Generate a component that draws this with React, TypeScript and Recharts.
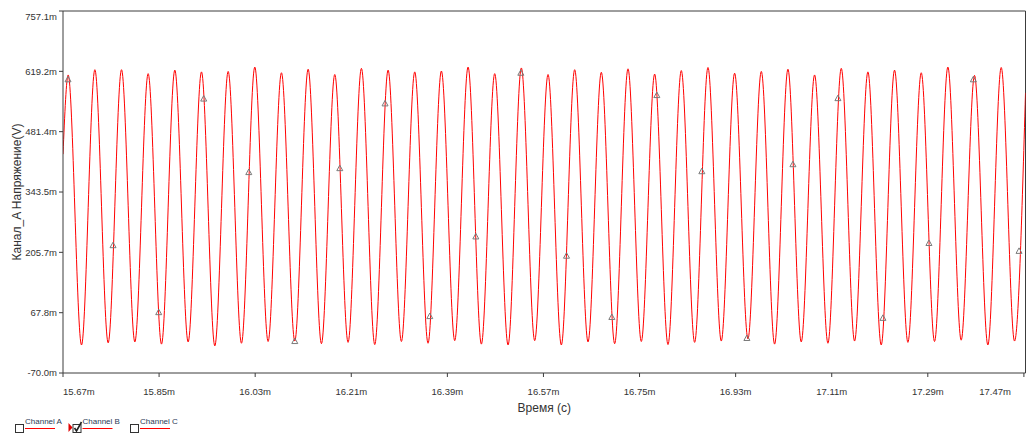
import React from 'react';
import { ComposedChart, Line, Scatter, XAxis, YAxis, ReferenceLine } from 'recharts';

// peaks and troughs of the Channel A trace (time in ms, voltage in mV)
const peakTimes = [
  15.6797, 15.7297, 15.7796, 15.8295, 15.8795, 15.9294, 15.9794, 16.0293, 16.0792, 16.1292,
  16.1791, 16.229, 16.279, 16.3289, 16.3788, 16.4288, 16.4787, 16.5286, 16.5786, 16.6285,
  16.6784, 16.7284, 16.7783, 16.8282, 16.8782, 16.9281, 16.9781, 17.028, 17.0779, 17.1279,
  17.1778, 17.2277, 17.2777, 17.3276, 17.3775, 17.4275,
];
const peakValues = [
  611, 623, 623, 614, 622, 618, 619, 629, 616, 624,
  612, 626, 622, 618, 620, 629, 614, 627, 612, 623,
  617, 625, 613, 621, 628, 615, 619, 624, 611, 626,
  618, 622, 616, 629, 610, 628,
];
const troughTimes = [
  15.7047, 15.7546, 15.8046, 15.8545, 15.9044, 15.9544, 16.0043, 16.0542, 16.1042, 16.1541,
  16.204, 16.254, 16.3039, 16.3538, 16.4038, 16.4537, 16.5037, 16.5536, 16.6035, 16.6535,
  16.7034, 16.7533, 16.8033, 16.8532, 16.9031, 16.9531, 17.003, 17.0529, 17.1029, 17.1528,
  17.2027, 17.2527, 17.3026, 17.3525, 17.4025, 17.4524,
];
const troughValues = [
  -6, -1, 1, -4, 1, -8, -2, 2, 3, -3,
  0, -5, 2, -2, 4, -4, -6, 4, -6, 1,
  -3, 2, -5, 0, 3, 8, -4, 1, -2, 3,
  -6, 0, 2, 5, -6, 3,
];
const startPoint = { t: 15.67, v: 430 };
const endPoint = { t: 17.473, v: 570 };

// triangle markers on the trace
const markerTimes = [
  15.6794, 15.7637, 15.8493, 15.9336, 16.018, 16.1042, 16.1885, 16.2733, 16.3571, 16.4433, 16.5276,
  16.6132, 16.6981, 16.7824, 16.8667, 16.9511, 17.0373, 17.1216, 17.2059, 17.2921, 17.3753, 17.4609,
];
const markerValues = [
  601, 222, 69, 557, 389, 3, 398, 546, 60, 242, 616,
  198, 58, 565, 391, 10, 407, 558, 56, 227, 601, 209,
];

const xTicks = [15.67, 15.85, 16.03, 16.21, 16.39, 16.57, 16.75, 16.93, 17.11, 17.29, 17.47];
const yTicks = [-70.0, 67.8, 205.7, 343.5, 481.4, 619.2, 757.1];
const xDomain = [15.67, 17.473];
const yDomain = [-70.0, 757.1];

const channels = [
  { name: 'Channel A', checked: false, active: false },
  { name: 'Channel B', checked: true, active: true },
  { name: 'Channel C', checked: false, active: false },
];

const font = '"Liberation Sans", Arial, sans-serif';
const axisColor = '#3c3c3c';
const textColor = '#333';

const trace = [
  startPoint,
  ...peakTimes.flatMap((t, i) => [
    { t, v: peakValues[i] },
    { t: troughTimes[i], v: troughValues[i] },
  ]),
  endPoint,
];
const markers = markerTimes.map((t, i) => ({ t, v: markerValues[i] }));

const XTick = (p: any) => {
  const { x, y, payload } = p;
  const v = payload.value as number;
  const anchor = v === xTicks[0] ? 'start' : v === xTicks[xTicks.length - 1] ? 'end' : 'middle';
  return (
    <text x={x} y={y} dy="0.71em" textAnchor={anchor} fontSize={9.5} fill={textColor} fontFamily={font}>
      {v.toFixed(2)}m
    </text>
  );
};

const YTick = (p: any) => {
  const { x, y, payload } = p;
  const v = payload.value as number;
  // top label is pushed down inside the frame
  const shift = v === yTicks[yTicks.length - 1] ? 6 : 0;
  return (
    <text x={x} y={y + shift} dy="0.355em" textAnchor="end" fontSize={9.5} fill={textColor} fontFamily={font}>
      {v.toFixed(1)}m
    </text>
  );
};

const Triangle = (p: any) => {
  const { cx, cy } = p;
  return (
    <path
      d={`M${cx},${cy - 3} L${cx + 3},${cy + 2.5} L${cx - 3},${cy + 2.5} Z`}
      fill="none"
      stroke="#7a7a7a"
      strokeWidth={1}
    />
  );
};

function ChannelLegend() {
  return (
    <svg width={200} height={20} style={{ position: 'absolute', left: 0, top: 415 }}>
      {channels.map((c, i) => {
        const x0 = 15 + i * 57.5;
        return (
          <g key={c.name}>
            {c.active && <path d={`M${x0 - 4},${8} L${x0},${12.5} L${x0 - 4},${17} Z`} fill="#e00000" />}
            <rect x={x0 + 0.5} y={9.5} width={8} height={8} fill="#fff" stroke="#333" />
            {c.checked && (
              <path d={`M${x0 + 2},${13} L${x0 + 4},${16} L${x0 + 9},${7}`} fill="none" stroke="#222" strokeWidth={1.6} />
            )}
            <text x={x0 + 10} y={9} fontSize={8} fill="#2b3a55" fontFamily={font}>
              {c.name}
            </text>
            <line x1={x0 + 10} x2={x0 + 40} y1={13.5} y2={13.5} stroke="#ff0000" />
          </g>
        );
      })}
    </svg>
  );
}

export default function App() {
  return (
    <div style={{ position: 'absolute', left: 0, top: 0, width: 1029, height: 435, background: '#fff' }}>
      <ComposedChart
        width={1029}
        height={435}
        margin={{ top: 11, right: 3.5, bottom: 0, left: 0 }}
        style={{ fontFamily: font }}
      >
        <XAxis
          dataKey="t"
          type="number"
          domain={xDomain}
          ticks={xTicks}
          allowDataOverflow
          height={62}
          tickSize={4}
          tickMargin={11}
          stroke={axisColor}
          tick={XTick}
          label={{ value: 'Время (с)', position: 'insideBottom', offset: 23, fontSize: 12, fill: textColor }}
        />
        <YAxis
          dataKey="v"
          type="number"
          domain={yDomain}
          ticks={yTicks}
          allowDataOverflow
          width={63}
          tickSize={4}
          tickMargin={2}
          stroke={axisColor}
          tick={YTick}
          label={{
            value: 'Канал_A Напряжение(V)',
            angle: -90,
            position: 'insideLeft',
            offset: 17,
            fontSize: 12,
            fill: textColor,
            style: { textAnchor: 'middle' },
          }}
        />
        {/* frame: top and right edges of the plot box */}
        <ReferenceLine y={yDomain[1]} stroke={axisColor} strokeWidth={1} />
        <ReferenceLine x={xDomain[1]} stroke={axisColor} strokeWidth={1} />
        <Line
          data={trace}
          dataKey="v"
          type="monotone"
          stroke="#ff0000"
          strokeWidth={1}
          dot={false}
          activeDot={false}
          isAnimationActive={false}
        />
        <Scatter data={markers} dataKey="v" shape={Triangle} isAnimationActive={false} />
      </ComposedChart>
      <ChannelLegend />
    </div>
  );
}
